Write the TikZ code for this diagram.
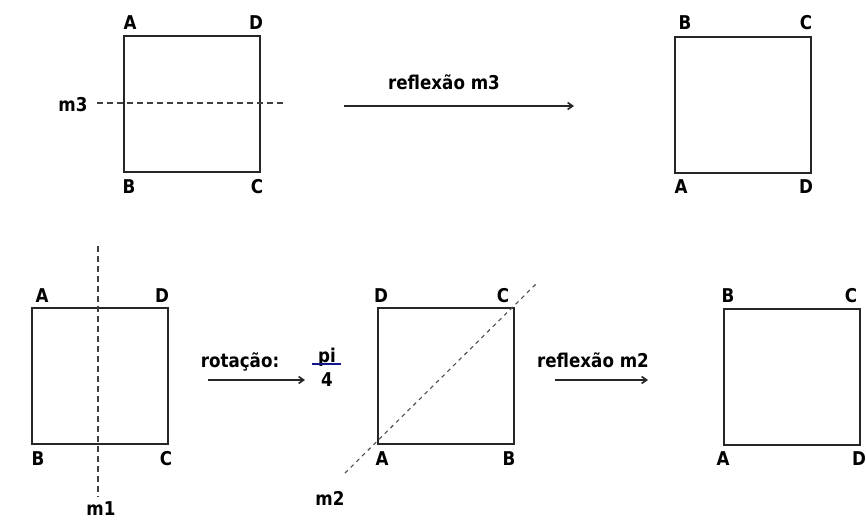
\documentclass[tikz,border=0pt]{standalone}
\usepackage{fontspec}
\setmainfont{DejaVu Sans}
\newfontfamily\lblfont[FakeStretch=0.88]{DejaVu Sans}
\usetikzlibrary{arrows.meta}
\definecolor{navy}{RGB}{20,20,140}
\tikzset{
  sq/.style={draw=black!85, line width=1.9pt, minimum width=136pt, minimum height=136pt, inner sep=0pt, anchor=north west},
  lbl/.style={font=\lblfont\fontsize{19}{22}\selectfont\bfseries, inner sep=0pt, anchor=base},
  axis/.style={draw=black!75, line width=1.7pt, dash pattern=on 6pt off 4pt},
  diag/.style={draw=black!70, line width=1.1pt, dash pattern=on 4pt off 4pt},
  arr/.style={draw=black!85, line width=1.6pt, -{Straight Barb[length=5pt,width=7pt]}}
}
\begin{document}
\begin{tikzpicture}[x=1pt,y=-1pt]
\useasboundingbox (0,0) rectangle (866,519);
% top row
\node[sq] (s1) at (123,35) {};
\node[lbl] (s1a) at (130,30) {A};
\node[lbl] (s1d) at (256,30) {D};
\node[lbl] (s1b) at (129,193) {B};
\node[lbl] (s1c) at (257,193) {C};
\node[lbl] (m3) at (73,111) {m3};
\coordinate (m3s) at (97,103);
\coordinate (m3e) at (286,103);
\draw[axis] (m3s) -- (m3e);

\coordinate (a1s) at (344,106);
\coordinate (a1e) at (574,106);
\draw[arr] (a1s) -- (a1e);
\node[lbl] (t1) at (444,89) {reflexão m3};

\node[sq] (s2) at (674,36) {};
\node[lbl] (s2b) at (685,30) {B};
\node[lbl] (s2c) at (806,30) {C};
\node[lbl] (s2a) at (681,193) {A};
\node[lbl] (s2d) at (806,193) {D};

% bottom row
\node[sq] (s3) at (31,307) {};
\node[lbl] (s3a) at (42,302) {A};
\node[lbl] (s3d) at (162,302) {D};
\node[lbl] (s3b) at (38,465) {B};
\node[lbl] (s3c) at (166,465) {C};
\coordinate (m1s) at (98,246);
\coordinate (m1e) at (98,497);
\draw[axis] (m1s) -- (m1e);
\node[lbl] (m1) at (101,515) {m1};

\coordinate (a2s) at (208,380);
\coordinate (a2e) at (305,380);
\draw[arr] (a2s) -- (a2e);
\node[lbl] (t2) at (240,367) {rotação:};
\node[lbl] (pi) at (327,362) {pi};
\node[lbl] (four) at (327,386) {4};
\coordinate (fl) at (312,364);
\coordinate (fr) at (341,364);
\draw[navy, line width=1.4pt] (fl) -- (fr);

\node[sq] (s4) at (377,307) {};
\node[lbl] (s4d) at (381,302) {D};
\node[lbl] (s4c) at (503,302) {C};
\node[lbl] (s4a) at (382,465) {A};
\node[lbl] (s4b) at (509,465) {B};
\coordinate (m2s) at (345,473);
\coordinate (m2e) at (538,282);
\draw[diag] (m2s) -- (m2e);
\node[lbl] (m2) at (330,505) {m2};

\coordinate (a3s) at (555,380);
\coordinate (a3e) at (648,380);
\draw[arr] (a3s) -- (a3e);
\node[lbl] (t3) at (593,367) {reflexão m2};

\node[sq] (s5) at (723,308) {};
\node[lbl] (s5b) at (728,302) {B};
\node[lbl] (s5c) at (851,302) {C};
\node[lbl] (s5a) at (723,465) {A};
\node[lbl] (s5d) at (859,465) {D};
\end{tikzpicture}
\end{document}
